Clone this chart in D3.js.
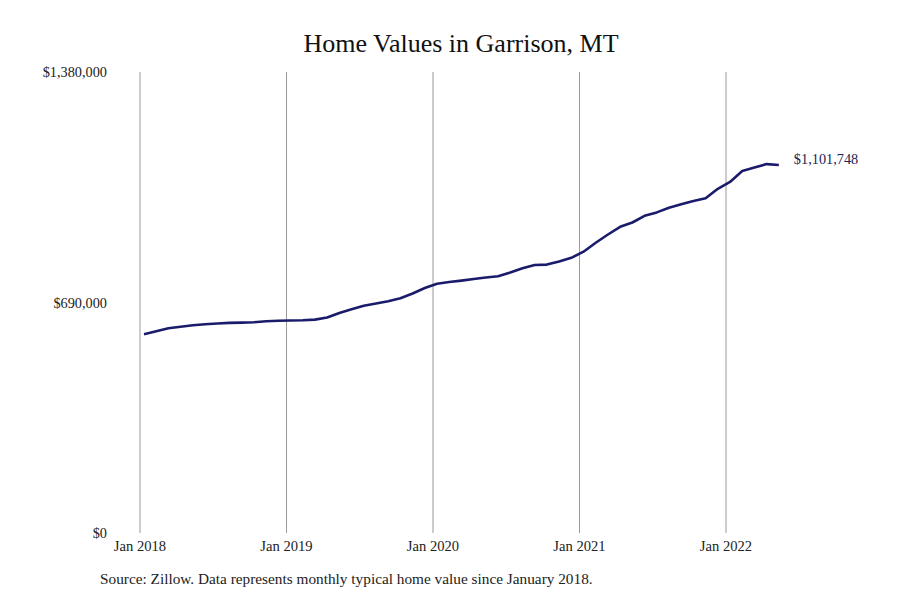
<!DOCTYPE html>
<html lang="en">
<head>
  <meta charset="utf-8">
  <title>Home Values in Garrison, MT</title>
  <style>
    html,body { margin:0; padding:0; background:#fff; }
    svg  { display:block; }
    text { font-family:"Liberation Serif", "DejaVu Serif", serif; fill:#222; }
  </style>
  <script src="https://d3js.org/d3.v7.min.js"></script>
</head>
<body>
  <svg width="900" height="600"></svg>

  <script>
  /* ---- data: monthly typical home value, Jan 2018 – May 2022 ---- */
  const values = [
    594800, 603800, 612800, 617300, 621700, 625000, 627100, 628900, 629800, 631000, 633700, 635500,
    636100, 636800, 638800, 645100, 658600, 669600, 680400, 687000, 693900, 702900, 717000, 733400,
    746300, 751400, 755600, 760300, 764900, 768700, 779800, 792700, 802300, 803500, 812700, 823800,
    842100, 869000, 893600, 916600, 929500, 949500, 959700, 973500, 984000, 993800, 1001900, 1030400,
    1051000, 1083600, 1093800, 1104300, 1101748
  ];
  const xTickLabels = ["Jan 2018", "Jan 2019", "Jan 2020", "Jan 2021", "Jan 2022"];
  const xTickMonths = [0, 12, 24, 36, 48];
  const yTicks      = [0, 690000, 1380000];

  const svg = d3.select("svg");

  // month index -> px ; one year ≈ 146.5px
  const x = d3.scaleLinear().domain([0, 60]).range([140, 872.5]);
  const y = d3.scaleLinear().domain([0, 1380000]).range([533, 72]);
  const fmt = d3.format("$,");

  // title
  svg.append("text")
      .attr("x", 461).attr("y", 52)
      .attr("text-anchor", "middle")
      .style("font-size", "26px")
      .style("fill", "#111")
      .text("Home Values in Garrison, MT");

  // vertical grid lines at each January
  svg.append("g")
    .selectAll("line")
    .data(xTickMonths)
    .join("line")
      .attr("x1", d => x(d)).attr("x2", d => x(d))
      .attr("y1", y(1380000)).attr("y2", y(0))
      .attr("stroke", "#9a9a9a")
      .attr("stroke-width", 1);

  // x labels
  svg.append("g")
    .selectAll("text")
    .data(xTickMonths)
    .join("text")
      .attr("x", d => x(d))
      .attr("y", 551)
      .attr("text-anchor", "middle")
      .style("font-size", "14.6px")
      .text((d, i) => xTickLabels[i]);

  // y labels
  svg.append("g")
    .selectAll("text")
    .data(yTicks)
    .join("text")
      .attr("x", 107)
      .attr("y", d => y(d))
      .attr("dy", "0.35em")
      .attr("text-anchor", "end")
      .style("font-size", "14.3px")
      .text(d => fmt(d));

  // the line (points sit a third of a month past the grid)
  const line = d3.line()
      .x((d, i) => x(i + 0.33))
      .y(d => y(d));

  svg.append("path")
      .datum(values)
      .attr("fill", "none")
      .attr("stroke", "#1b1b6b")
      .attr("stroke-width", 2.6)
      .attr("stroke-linejoin", "round")
      .attr("d", line);

  // end label
  const last = values.length - 1;
  svg.append("text")
      .attr("x", x(last + 0.33) + 15)
      .attr("y", y(values[last]) - 6)
      .attr("dy", "0.35em")
      .style("font-size", "14.3px")
      .style("fill", "#23234f")
      .text(fmt(values[last]));

  // source note
  svg.append("text")
      .attr("x", 100)
      .attr("y", 584)
      .style("font-size", "15.3px")
      .text("Source: Zillow. Data represents monthly typical home value since January 2018.");
  </script>
</body>
</html>
